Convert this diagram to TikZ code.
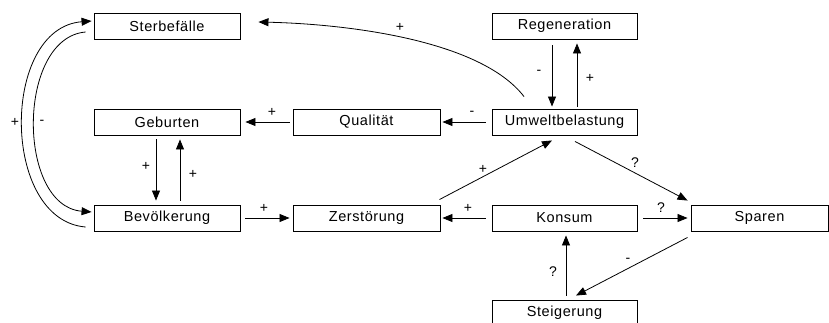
\documentclass[tikz,border=0pt]{standalone}
\usepackage{fontspec}
\setmainfont{Liberation Sans}
\usetikzlibrary{arrows.meta}
\begin{document}
\begin{tikzpicture}[x=1pt,y=-1pt,
  box/.style={draw,line width=0.9pt,inner sep=0pt,minimum height=26pt,font=\fontsize{14.5}{16}\selectfont\addfontfeatures{LetterSpace=4}},
  arr/.style={line width=0.8pt,-{Triangle[length=10pt,width=8pt]}},
  lbl/.style={inner sep=0pt,font=\fontsize{14}{16}\selectfont}]
\useasboundingbox (0,0) rectangle (829,323);
\clip (0,0) rectangle (829,323);
% boxes
\node[box,minimum width=146pt] (sterb) at (167,26) {Sterbefälle};
\node[box,minimum width=146pt] (geb) at (167,122) {Geburten};
\node[box,minimum width=146pt] (bev) at (167,218) {Bevölkerung};
\node[box,minimum width=147pt] (qual) at (366.5,122) {Qualität};
\node[box,minimum width=147pt] (zer) at (366.5,218) {Zerstörung};
\node[box,minimum width=145pt] (reg) at (564.5,26) {Regeneration};
\node[box,minimum width=145pt] (umw) at (564.5,122) {Umweltbelastung};
\node[box,minimum width=145pt] (kon) at (564.5,218) {Konsum};
\node[box,minimum width=137pt] (spa) at (759.5,218) {Sparen};
\node[box,minimum width=145pt] (stg) at (564.5,313) {Steigerung};
% connectors
\draw[arr] ([xshift=-40.5pt,yshift=12pt]umw.north) .. controls +(-44,-57) and +(87,2) .. ([xshift=18pt,yshift=4pt]sterb.east);
\draw[arr] ([xshift=-12.5pt,yshift=-6pt]reg.south) -- ([xshift=-12.5pt,yshift=2pt]umw.north);
\draw[arr] ([xshift=12.5pt,yshift=2pt]umw.north) -- ([xshift=12.5pt,yshift=-4pt]reg.south);
\draw[arr] ([xshift=-6pt]umw.west) -- ([xshift=2pt]qual.east);
\draw[arr] ([xshift=-3pt]qual.west) -- ([xshift=5pt]geb.east);
\draw[arr] ([xshift=-11pt,yshift=-4pt]geb.south) -- ([xshift=-11pt,yshift=4pt]bev.north);
\draw[arr] ([xshift=13pt,yshift=4pt]bev.north) -- ([xshift=13pt,yshift=-4pt]geb.south);
\draw[arr] ([xshift=5pt]bev.east) -- ([xshift=-3pt]zer.west);
\draw[arr] ([xshift=-6pt]kon.west) -- ([xshift=2pt]zer.east);
\draw[arr] ([xshift=-1pt,yshift=5pt]zer.north east) -- ([xshift=-12.5pt,yshift=-5pt]umw.south);
\draw[arr] ([xshift=10.5pt,yshift=-6pt]umw.south) -- ([xshift=-3pt,yshift=4pt]spa.north west);
\draw[arr] ([xshift=6pt]kon.east) -- ([xshift=-3pt]spa.west);
\draw[arr] ([xshift=-3pt,yshift=-6pt]spa.south west) -- ([xshift=11.5pt,yshift=4pt]stg.north);
\draw[arr] ([xshift=1.5pt,yshift=4pt]stg.north) -- ([xshift=1.5pt,yshift=-4pt]kon.south);
\draw[arr] ([xshift=-8pt,yshift=-9pt]bev.west) .. controls +(-85,-7) and +(-91,7) .. ([xshift=-2pt,yshift=5pt]sterb.west);
\draw[arr] ([xshift=-8pt,yshift=-6pt]sterb.west) .. controls +(-69,6) and +(-75,-6) .. ([xshift=-2pt,yshift=6pt]bev.west);
% labels
\node[lbl] (l1) at (400,27) {+};
\node[lbl] (l2) at (539,72) {-};
\node[lbl] (l3) at (590,78) {+};
\node[lbl] (l4) at (472,113) {-};
\node[lbl] (l5) at (272,112) {+};
\node[lbl] (l6) at (146,166) {+};
\node[lbl] (l7) at (193,174) {+};
\node[lbl] (l8) at (264,208) {+};
\node[lbl] (l9) at (468,208) {+};
\node[lbl] (l10) at (483,169) {+};
\node[lbl] (l11) at (635,163) {?};
\node[lbl] (l12) at (661,208) {?};
\node[lbl] (l13) at (628,260) {-};
\node[lbl] (l14) at (553,272) {?};
\node[lbl] (l15) at (15,122) {+};
\node[lbl] (l16) at (42,122) {-};
\end{tikzpicture}
\end{document}
